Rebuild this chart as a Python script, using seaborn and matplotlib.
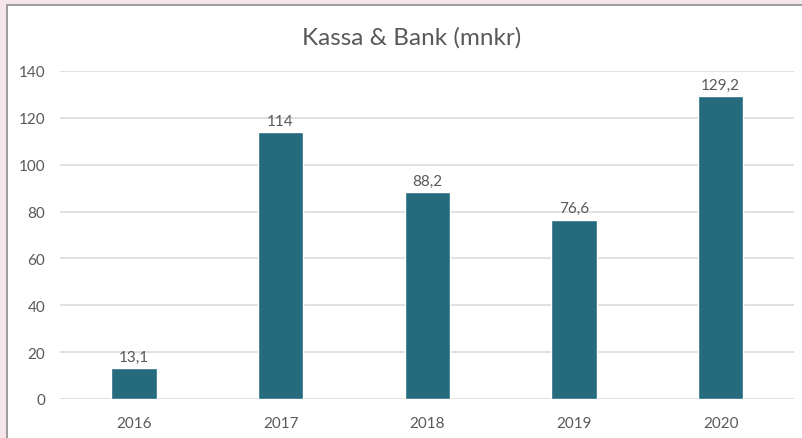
import matplotlib
matplotlib.use("Agg")
import matplotlib.pyplot as plt
from matplotlib.patches import Rectangle
import seaborn as sns
import pandas as pd

years = ["2016", "2017", "2018", "2019", "2020"]
values = [13.1, 114, 88.2, 76.6, 129.2]
yticks = [0, 20, 40, 60, 80, 100, 120, 140]

title = "Kassa & Bank (mnkr)"
bar_color = "#256A7D"
text_color = "#595959"
grid_color = "#D9D9D9"

sns.set_theme(style="white")
plt.rcParams["font.family"] = ["Lato", "DejaVu Sans"]

df = pd.DataFrame({"year": years, "value": values})

fig = plt.figure(figsize=(8.03, 4.39), dpi=100)
fig.patch.set_facecolor("#F5E6EC")

# white chart card with a thin grey frame, kept behind the axes
card = Rectangle((7 / 803, -0.01), 1.0, 1 - 6 / 439 + 0.01,
                 transform=fig.transFigure, facecolor="white",
                 edgecolor="#8C8C8C", linewidth=1.2, zorder=-1)
fig.add_artist(card)

ax = fig.add_axes([60.5 / 803, 1 - 400 / 439, (794 - 60.5) / 803, (400 - 72) / 439])
ax.set_facecolor("none")
ax.set_zorder(1)

sns.barplot(data=df, x="year", y="value", color=bar_color, width=0.31,
            saturation=1, ax=ax, zorder=3)

ax.set_ylim(0, 140)
ax.set_xlim(-0.5, len(years) - 0.5)
ax.set_yticks(yticks)
ax.set_yticklabels([str(t) for t in yticks])
ax.yaxis.grid(True, color=grid_color, linewidth=1.1, zorder=0)
ax.set_axisbelow(True)
for s in ax.spines.values():
    s.set_visible(False)
ax.tick_params(axis="both", length=0, labelsize=11, colors=text_color)
ax.tick_params(axis="y", pad=11)
ax.tick_params(axis="x", pad=12)
ax.set_xlabel("")
ax.set_ylabel("")

for i, v in enumerate(values):
    label = f"{v:g}".replace(".", ",")
    ax.annotate(label, (i, v), xytext=(0, 3), textcoords="offset points",
                ha="center", va="bottom", fontsize=11, color=text_color)

fig.text(412 / 803, 1 - 38 / 439, title, ha="center", va="center",
         fontsize=17.5, fontweight="normal", color=text_color)

fig.savefig("out.png", dpi=100, facecolor=fig.get_facecolor())
